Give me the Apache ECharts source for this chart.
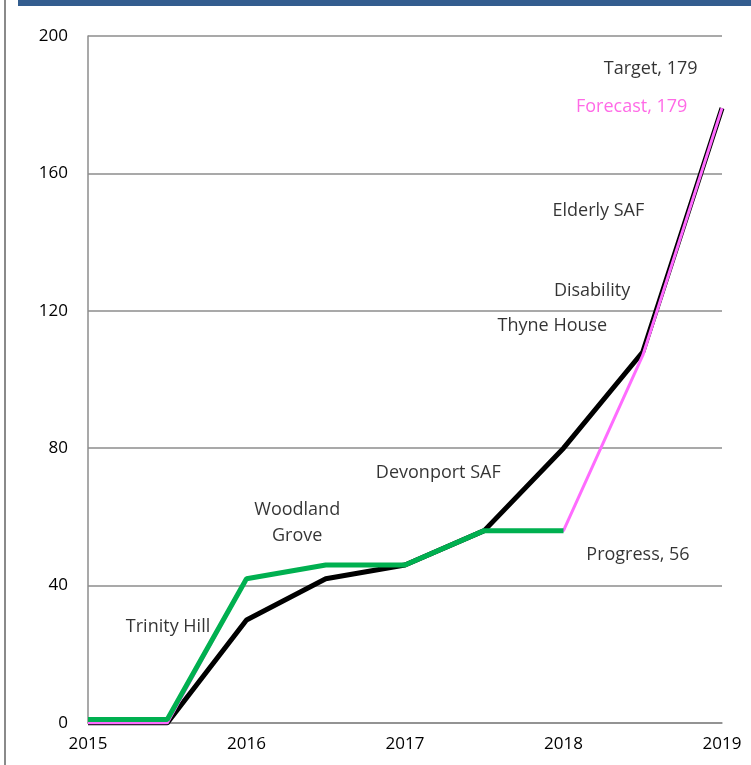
<!DOCTYPE html>
<html>
<head>
<meta charset="utf-8">
<script src="https://cdn.jsdelivr.net/npm/echarts@6/dist/echarts.min.js"></script>
<style>
  html, body { margin: 0; padding: 0; background: #fff; }
  #chart { width: 751px; height: 765px; }
</style>
</head>
<body>
<div id="chart"></div>
<script>
// half-year steps from 2015 to 2019
const years = [2015, 2015.5, 2016, 2016.5, 2017, 2017.5, 2018, 2018.5, 2019]
const target = [0, 0, 30, 42, 46, 56, 80, 108, 179]
const progress = [1, 1, 42, 46, 46, 56, 56]
const forecast = [0, 0, 42, 46, 46, 56, 56, 107, 179]
const yTicks = [0, 40, 80, 120, 160, 200]

// text annotations placed in data coordinates
const noteText = ['Trinity Hill', 'Woodland\nGrove', 'Devonport SAF', 'Thyne House', 'Disability', 'Elderly SAF', 'Target, 179', 'Forecast, 179', 'Progress, 56']
const noteX = [2015.505, 2016.32, 2017.21, 2017.93, 2018.18, 2018.22, 2018.55, 2018.43, 2018.47]
const noteY = [27.9, 58.2, 72.8, 115.6, 125.8, 149, 190.4, 179.3, 48.9]

const pair = (xs, ys) => ys.map((v, i) => [xs[i], v])
const font = '"Open Sans", "Noto Sans", sans-serif'

const chart = echarts.init(document.getElementById('chart'))
chart.setOption({
  animation: false,
  textStyle: { fontFamily: font },
  grid: { left: 88, right: 29, top: 36, bottom: 42 },
  graphic: [
    // header strip and page edge
    { type: 'rect', left: 18, top: 0, shape: { width: 733, height: 6 }, style: { fill: '#335d8f' } },
    { type: 'rect', left: 4, top: 0, shape: { width: 2, height: 765 }, style: { fill: '#8a8a8a' } }
  ],
  xAxis: {
    type: 'value',
    min: 2015,
    max: 2019,
    interval: 1,
    axisLine: { lineStyle: { color: '#8c8c8c', width: 1.5 } },
    axisTick: { show: false },
    splitLine: { show: false },
    axisLabel: { color: '#000', fontSize: 17, margin: 13, fontFamily: font, formatter: v => String(v) }
  },
  yAxis: {
    type: 'value',
    min: yTicks[0],
    max: yTicks[yTicks.length - 1],
    interval: 40,
    axisLine: { show: true, lineStyle: { color: '#8c8c8c', width: 1.5 } },
    axisTick: { show: false },
    splitLine: { lineStyle: { color: '#8c8c8c', width: 1.5 } },
    axisLabel: { color: '#000', fontSize: 17, margin: 20, fontFamily: font }
  },
  series: [
    {
      name: 'Target',
      type: 'line',
      data: pair(years, target),
      symbol: 'none',
      lineStyle: { color: '#000', width: 5 }
    },
    {
      name: 'Forecast',
      type: 'line',
      data: pair(years, forecast),
      symbol: 'none',
      lineStyle: { color: '#ff6cff', width: 3 }
    },
    {
      name: 'Progress',
      type: 'line',
      data: pair(years, progress),
      symbol: 'none',
      lineStyle: { color: '#00b050', width: 5 }
    },
    {
      name: 'notes',
      type: 'scatter',
      silent: true,
      symbolSize: 1,
      itemStyle: { color: 'rgba(0,0,0,0)' },
      data: noteText.map((t, i) => ({
        name: t,
        value: [noteX[i], noteY[i]],
        label: { color: t.startsWith('Forecast') ? '#ff45e0' : '#000' }
      })),
      label: {
        show: true,
        position: 'inside',
        formatter: p => p.name,
        fontSize: 18,
        lineHeight: 26,
        fontFamily: font,
        align: 'center',
        verticalAlign: 'middle'
      }
    }
  ]
})
</script>
</body>
</html>
